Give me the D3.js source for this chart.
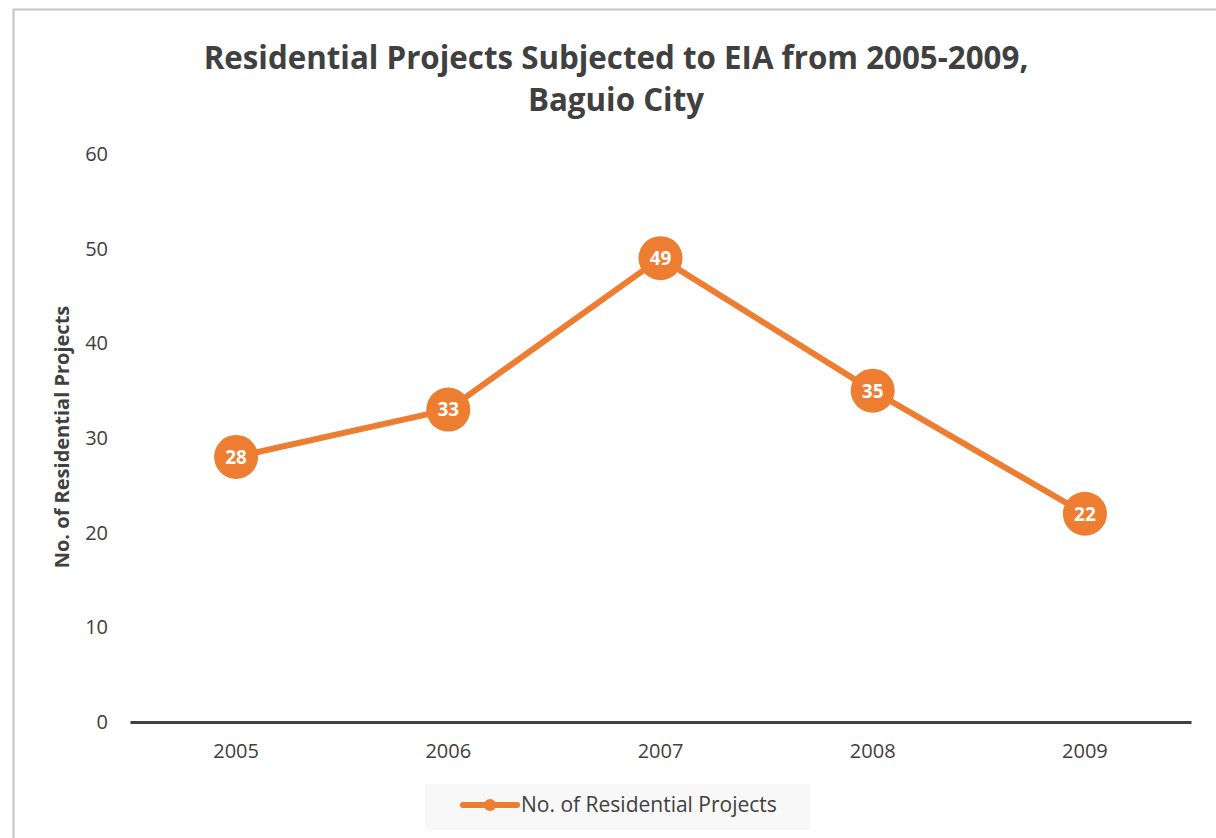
<!DOCTYPE html>
<html>
<head>
<meta charset="utf-8">
<script src="https://cdn.jsdelivr.net/npm/d3@7"></script>
<style>
  body { margin: 0; background: #fff; }
  text { font-family: "Open Sans", "Noto Sans", sans-serif; }
</style>
</head>
<body>
<svg id="chart" width="1216" height="838"></svg>
<script>
var years = ["2005", "2006", "2007", "2008", "2009"];
var projects = [28, 33, 49, 35, 22];
var yTicks = [0, 10, 20, 30, 40, 50, 60];
var titleLines = ["Residential Projects Subjected to EIA from 2005-2009,", "Baguio City"];
var seriesName = "No. of Residential Projects";

var orange = "#ED7D31";
var textColor = "#404040";

var svg = d3.select("#chart");

// chart frame
svg.append("path")
    .attr("d", "M13.5,838 L13.5,9.5 L1216,9.5")
    .attr("fill", "none").attr("stroke", "#c4c4c4").attr("stroke-width", 2);

var x = d3.scaleBand().domain(years).range([130, 1191]);
var y = d3.scaleLinear().domain([0, 60]).range([722, 154]);

// title
svg.selectAll(".title").data(titleLines).enter().append("text")
    .attr("class", "title")
    .attr("x", 616).attr("y", function (d, i) { return 69 + i * 42; })
    .attr("text-anchor", "middle")
    .attr("font-size", 31.3).attr("font-weight", "bold")
    .attr("fill", textColor)
    .text(function (d) { return d; });

// y axis labels
var yAxis = d3.axisLeft(y).tickValues(yTicks).tickSize(0).tickPadding(22);
var gy = svg.append("g").attr("transform", "translate(130,0)").call(yAxis);
gy.select(".domain").remove();
gy.selectAll("text").attr("font-size", 20).attr("fill", textColor)
    .attr("font-family", "'Open Sans', sans-serif");

// x axis
var xAxis = d3.axisBottom(x).tickSize(0).tickPadding(22);
var gx = svg.append("g").attr("transform", "translate(0,722)").call(xAxis);
gx.select(".domain").attr("stroke", textColor).attr("stroke-width", 3);
gx.selectAll("text").attr("font-size", 20).attr("fill", textColor)
    .attr("font-family", "'Open Sans', sans-serif");

// y axis title
svg.append("text")
    .attr("transform", "translate(69,437) rotate(-90)")
    .attr("text-anchor", "middle")
    .attr("font-size", 20).attr("font-weight", "bold")
    .attr("fill", textColor)
    .text(seriesName);

// line
var line = d3.line()
    .x(function (d, i) { return x(years[i]) + x.bandwidth() / 2; })
    .y(function (d) { return y(d); });

svg.append("path")
    .datum(projects)
    .attr("d", line)
    .attr("fill", "none")
    .attr("stroke", orange)
    .attr("stroke-width", 6)
    .attr("stroke-linejoin", "round");

var pts = svg.selectAll(".pt").data(projects).enter().append("g")
    .attr("class", "pt")
    .attr("transform", function (d, i) {
        return "translate(" + (x(years[i]) + x.bandwidth() / 2) + "," + y(d) + ")";
    });
pts.append("circle").attr("r", 22).attr("fill", orange);
pts.append("text")
    .attr("text-anchor", "middle").attr("dy", "0.36em")
    .attr("font-size", 19).attr("font-weight", "bold").attr("fill", "#fff")
    .text(function (d) { return d; });

// legend
var lg = svg.append("g").attr("transform", "translate(425,784)");
lg.append("rect").attr("width", 385).attr("height", 46).attr("fill", "#f8f8f8");
lg.append("line").attr("x1", 38).attr("x2", 92).attr("y1", 21).attr("y2", 21)
    .attr("stroke", orange).attr("stroke-width", 6).attr("stroke-linecap", "round");
lg.append("circle").attr("cx", 65).attr("cy", 21).attr("r", 6).attr("fill", orange);
lg.append("text").attr("x", 96).attr("y", 21).attr("dy", "0.35em")
    .attr("font-size", 21).attr("fill", textColor)
    .text(seriesName);
</script>
</body>
</html>
